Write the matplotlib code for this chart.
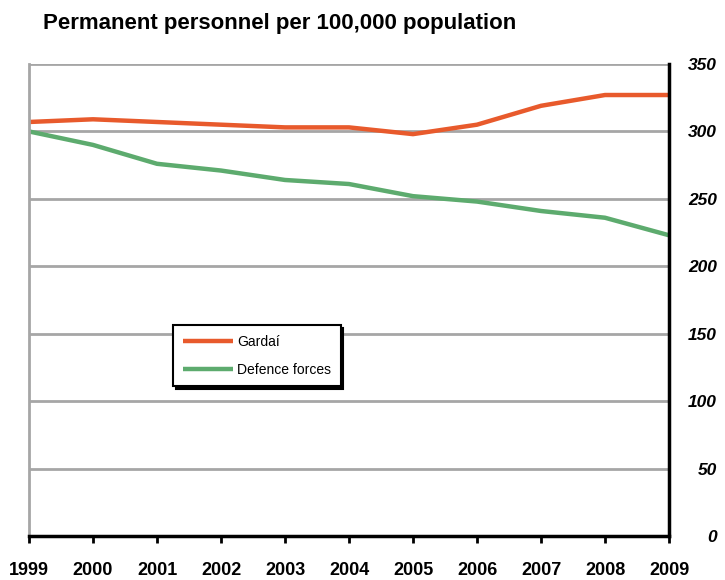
import matplotlib
matplotlib.use("Agg")
import matplotlib.pyplot as plt

years = [1999, 2000, 2001, 2002, 2003, 2004, 2005, 2006, 2007, 2008, 2009]
gardai = [307, 309, 307, 305, 303, 303, 298, 305, 319, 327, 327]
defence = [300, 290, 276, 271, 264, 261, 252, 248, 241, 236, 223]
yticks = [0, 50, 100, 150, 200, 250, 300, 350]

plt.rcParams['font.family'] = ['Liberation Sans', 'DejaVu Sans']

fig = plt.figure(figsize=(7.25, 5.8), dpi=100)
ax = fig.add_axes([29/725, 44/580, 640/725, 472/580])

ax.plot(years, gardai, color='#E85A2C', lw=3.2, label='Gardaí', solid_capstyle='butt')
ax.plot(years, defence, color='#5DAB6E', lw=3.2, label='Defence forces', solid_capstyle='butt')

ax.set_xlim(1999, 2009)
ax.set_ylim(0, 350)
ax.set_yticks(yticks)
ax.yaxis.grid(True, color='#A6A6A6', lw=2)
ax.set_axisbelow(True)
ax.yaxis.tick_right()
ax.tick_params(axis='y', length=0, pad=34.5)
for lab in ax.get_yticklabels():
    lab.set_fontstyle('italic')
    lab.set_fontweight('bold')
    lab.set_fontsize(12.5)
    lab.set_horizontalalignment('right')
ax.set_xticks(years)
ax.set_xticklabels([str(y) for y in years], fontsize=13, fontweight='bold')
ax.tick_params(axis='x', direction='out', length=5, width=2, pad=13.5)

ax.spines['left'].set_color('#A6A6A6')
ax.spines['left'].set_linewidth(2)
ax.spines['top'].set_visible(False)
ax.spines['bottom'].set_color('black')
ax.spines['bottom'].set_linewidth(2.5)
ax.spines['right'].set_color('black')
ax.spines['right'].set_linewidth(2.5)

leg = ax.legend(loc='upper left', bbox_to_anchor=(144/640, (536-325)/472), fontsize=10,
                frameon=True, fancybox=False, edgecolor='black', handlelength=3.6,
                borderpad=0.7, labelspacing=1.0, handletextpad=0.3, borderaxespad=0,
                shadow={'color': 'black', 'alpha': 1})
leg.get_frame().set_linewidth(1.5)

fig.text(43/725, 1-23/580, 'Permanent personnel per 100,000 population',
         fontsize=16, fontweight='bold', va='center', ha='left')

fig.savefig('out.png', dpi=100)
